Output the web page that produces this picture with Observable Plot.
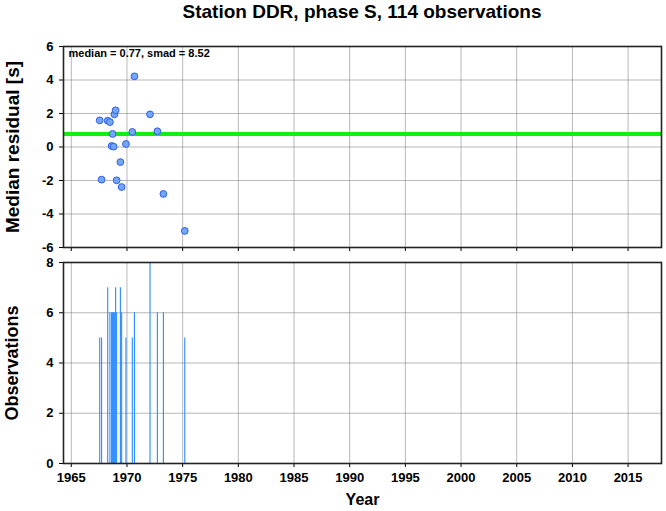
<!DOCTYPE html>
<html>
<head>
<meta charset="utf-8">
<script src="https://cdn.jsdelivr.net/npm/d3@7"></script>
<script src="https://cdn.jsdelivr.net/npm/@observablehq/plot@0.6"></script>
<style>
  html, body { margin: 0; padding: 0; background: #fff; }
  #wrap { position: relative; width: 666px; height: 511px; font-family: "Liberation Sans", Arial, sans-serif; }
  #title { position: absolute; left: 63px; width: 598px; top: 1px; text-align: center; font-weight: bold; font-size: 19px; color: #000; }
  #top { position: absolute; left: 0; top: 30px; }
  #bot { position: absolute; left: 0; top: 255px; }
</style>
</head>
<body>
<div id="wrap">
  <div id="title">Station DDR, phase S, 114 observations</div>
  <div id="top"></div>
  <div id="bot"></div>
</div>
<script>
// Observation epochs (decimal years), median residuals [s], and observation counts
const years = [1967.55, 1967.72, 1968.27, 1968.47, 1968.62, 1968.71, 1968.80, 1968.87, 1968.98, 1969.07,
               1969.41, 1969.52, 1969.91, 1970.48, 1970.67, 1972.07, 1972.73, 1973.27, 1975.19];
const residuals = [1.59, -1.95, 1.57, 1.49, 0.06, 0.78, 0.02, 1.95, 2.19, -1.99,
                   -0.90, -2.39, 0.18, 0.90, 4.22, 1.95, 0.94, -2.80, -5.01];
const counts = [5, 5, 7, 6, 6, 6, 6, 6, 7, 6,
                7, 6, 5, 5, 6, 8, 6, 6, 5];
const medianValue = 0.77;
const smadValue = 8.52;
const xTicks = [1965, 1970, 1975, 1980, 1985, 1990, 1995, 2000, 2005, 2010, 2015];
const yTicksTop = [-6, -4, -2, 0, 2, 4, 6];
const yTicksBot = [0, 2, 4, 6, 8];

const data = years.map((y, i) => ({year: y, res: residuals[i], n: counts[i]}));
const xDomain = [1964.3, 2018];
const font = "Liberation Sans, Arial, sans-serif";

const topPlot = Plot.plot({
  width: 666, height: 225,
  marginLeft: 63, marginRight: 5, marginTop: 16, marginBottom: 8,
  style: {fontFamily: font, fontSize: "13px", fontWeight: "bold", color: "#000", background: "white"},
  x: {domain: xDomain},
  y: {domain: [-6, 6]},
  marks: [
    Plot.gridX(xTicks, {stroke: "#888", strokeOpacity: 1, strokeWidth: 0.6}),
    Plot.gridY(yTicksTop, {stroke: "#888", strokeOpacity: 1, strokeWidth: 0.6}),
    Plot.ruleY([medianValue], {stroke: "#11ee11", strokeWidth: 4}),
    Plot.dot(data, {x: "year", y: "res", r: 3.4, fill: "#74a6f7", stroke: "#2f5fe8", strokeWidth: 1}),
    Plot.axisX(xTicks, {tickSize: 4, tickFormat: () => "", label: null, stroke: "#000"}),
    Plot.axisY(yTicksTop, {tickSize: 4, tickPadding: 6, tickFormat: d => String(d).replace("−", "-"),
      fontSize: 13, label: "Median residual [s]", labelAnchor: "center", labelArrow: "none", labelOffset: 58, fontWeight: "bold"}),
    Plot.frame({stroke: "#222", strokeWidth: 1.6}),
    Plot.text([`median = ${medianValue.toFixed(2)}, smad = ${smadValue.toFixed(2)}`],
      {frameAnchor: "top-left", dx: 5, dy: 3, fontSize: 11, fontWeight: "bold", fill: "#000", text: d => d})
  ]
});
document.getElementById("top").appendChild(topPlot);

const botPlot = Plot.plot({
  width: 666, height: 256,
  marginLeft: 63, marginRight: 5, marginTop: 7, marginBottom: 48,
  style: {fontFamily: font, fontSize: "13px", fontWeight: "bold", color: "#000", background: "white"},
  x: {domain: xDomain},
  y: {domain: [0, 8]},
  marks: [
    Plot.gridX(xTicks, {stroke: "#888", strokeOpacity: 1, strokeWidth: 0.6}),
    Plot.gridY(yTicksBot, {stroke: "#888", strokeOpacity: 1, strokeWidth: 0.6}),
    Plot.ruleX(data, {x: "year", y1: 0, y2: "n", stroke: "#2a8cff", strokeWidth: 1.1}),
    Plot.axisX(xTicks, {tickSize: 4, tickPadding: 5, tickFormat: d => String(d), fontSize: 13,
      label: "Year", labelAnchor: "center", labelArrow: "none", labelOffset: 41}),
    Plot.axisY(yTicksBot, {tickSize: 4, tickPadding: 6, tickFormat: d => String(d), fontSize: 13,
      label: "Observations", labelAnchor: "center", labelArrow: "none", labelOffset: 58}),
    Plot.frame({stroke: "#222", strokeWidth: 1.6})
  ]
});
document.getElementById("bot").appendChild(botPlot);

// enlarge axis labels
[topPlot, botPlot].forEach((svg, i) => {
  svg.querySelectorAll("g[aria-label='x-axis label'] text").forEach(t => {
    t.setAttribute("font-size", "16"); t.setAttribute("font-weight", "bold");
  });
  svg.querySelectorAll("g[aria-label='y-axis label'] text").forEach(t => {
    t.setAttribute("font-size", i === 0 ? "19" : "18"); t.setAttribute("font-weight", "bold");
  });
});
</script>
</body>
</html>
